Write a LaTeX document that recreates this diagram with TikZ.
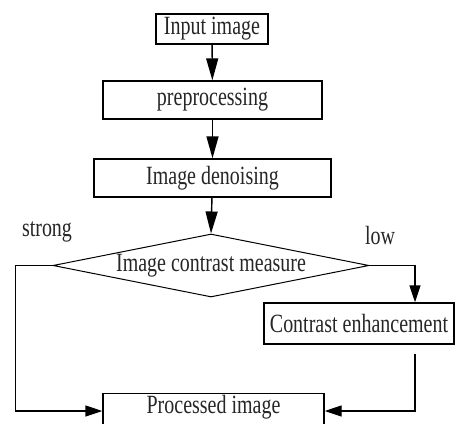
\documentclass[tikz,border=0pt]{standalone}
\usepackage{fontspec}
\setmainfont{Liberation Serif}[FakeStretch=0.76]
\usetikzlibrary{arrows.meta,shapes.geometric,calc}
\begin{document}
\begin{tikzpicture}[x=1pt,y=-1pt,
  every node/.style={font=\fontsize{26.3}{30}\selectfont, text=black!85},
  box/.style={draw=black, line width=1.4pt, inner sep=0pt},
  decision/.style={draw=black, line width=1pt, diamond, aspect=5, inner sep=0pt,
    minimum width=316pt, minimum height=63pt},
  arr/.style={draw=black, line width=1.4pt, -{Triangle[width=12pt,length=22pt]}},
  arrs/.style={draw=black, line width=1.4pt, -{Triangle[width=11pt,length=17pt]}},
  lbl/.style={inner sep=0pt}]
\useasboundingbox (0,0) rectangle (455,423);
\fill[white] (0,0) rectangle (455,423);

\node[box, minimum width=112pt, minimum height=30pt] (in) at (212,29) {Input image};
\node[box, minimum width=219pt, minimum height=38pt] (pre) at (212.5,100) {preprocessing};
\node[box, minimum width=237pt, minimum height=38pt] (den) at (212.5,178) {Image denoising};
\node[decision] (dia) at (211,265.5) {Image contrast measure};
\node[box, minimum width=190pt, minimum height=41pt] (ce) at (359,323.5) {Contrast enhancement};
\node[box, minimum width=221pt, text height=20pt, text depth=25pt, anchor=north] (out) at (213.5,393) {Processed image};

\node[lbl] (strong) at (47,232) {strong};
\node[lbl] (low) at (380,236) {low};

\coordinate (lowy) at (0,411);
\coordinate (rx) at (415,0);
\coordinate (cestart) at (415,354);

\draw[arr] (in) -- (pre);
\draw[arr] (pre) -- (den);
\draw[arr] (den) -- (dia.north);
\draw[arrs] (dia.west) -- ++(-37,0) |- (out.west |- lowy);
\draw[arrs] (dia.east) -| (rx |- ce.north);
\draw[arrs] (cestart) |- (out.east |- lowy);
\end{tikzpicture}
\end{document}
